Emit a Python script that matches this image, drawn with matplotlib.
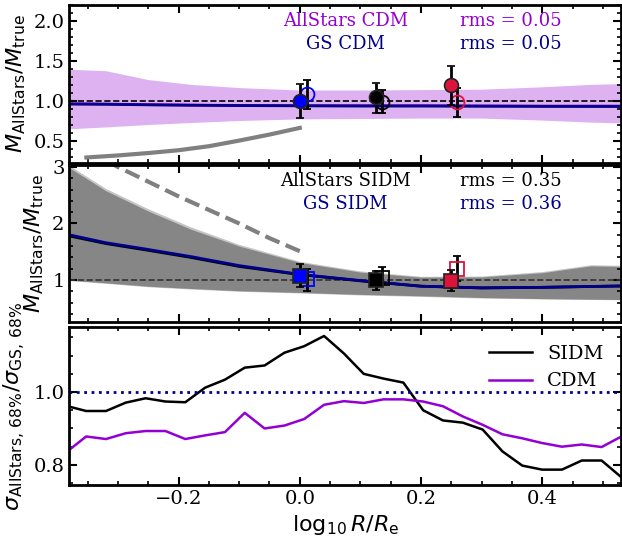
import matplotlib
matplotlib.use("Agg")
from matplotlib import pyplot as plt
from matplotlib.ticker import AutoMinorLocator, MultipleLocator
import numpy as np

plt.rcParams.update({
    "font.family": "serif",
    "font.serif": ["DejaVu Serif"],
    "mathtext.fontset": "dejavusans",
    "axes.linewidth": 2,
})

# ---- data ----
# bands / medians (log10 R/Re)
r_band = [-0.385, -0.32, -0.25, -0.18, -0.10, 0.0, 0.1, 0.2, 0.3, 0.4, 0.48, 0.53]

cdm_hi = [1.40, 1.38, 1.27, 1.21, 1.17, 1.14, 1.14, 1.145, 1.15, 1.18, 1.21, 1.22]
cdm_lo = [0.655, 0.68, 0.71, 0.735, 0.76, 0.78, 0.785, 0.79, 0.79, 0.765, 0.74, 0.73]
cdm_med_all = [0.97, 0.965, 0.958, 0.952, 0.948, 0.945, 0.945, 0.945, 0.942, 0.94, 0.94, 0.94]
cdm_med_gs = [0.965, 0.962, 0.955, 0.95, 0.946, 0.943, 0.94, 0.94, 0.938, 0.936, 0.935, 0.935]

sidm_hi = [3.02, 2.58, 2.22, 1.90, 1.60, 1.31, 1.14, 1.05, 1.055, 1.13, 1.25, 1.24]
sidm_lo = [1.0, 0.95, 0.89, 0.85, 0.81, 0.78, 0.745, 0.72, 0.69, 0.67, 0.66, 0.655]
sidm_hi2 = [3.06, 2.62, 2.26, 1.94, 1.63, 1.33, 1.16, 1.065, 1.07, 1.15, 1.27, 1.26]
sidm_lo2 = [0.995, 0.94, 0.88, 0.84, 0.80, 0.77, 0.735, 0.71, 0.68, 0.665, 0.655, 0.65]
sidm_med_all = [1.79, 1.645, 1.525, 1.40, 1.24, 1.095, 0.985, 0.89, 0.86, 0.87, 0.885, 0.894]
sidm_med_gs = [1.81, 1.66, 1.54, 1.415, 1.255, 1.10, 0.99, 0.89, 0.86, 0.87, 0.886, 0.894]

# grey reference curves
ref_x = [-0.352, -0.30, -0.25, -0.20, -0.15, -0.10, -0.05, 0.0]
ref_cdm = [0.30, 0.325, 0.355, 0.39, 0.44, 0.51, 0.585, 0.668]
ref_sidm = [3.30, 3.00, 2.74, 2.48, 2.24, 2.00, 1.74, 1.51]

# estimator points: x, y, y_hi, y_lo
pt_colors = ["blue", "black", "crimson"]
pt_x_filled = [0.0, 0.126, 0.250]
pt_x_open = [0.0115, 0.136, 0.259]

cdm_f_y = [1.0, 1.05, 1.196]
cdm_f_hi = [1.21, 1.23, 1.44]
cdm_f_lo = [0.79, 0.855, 0.956]
cdm_o_y = [1.09, 0.99, 0.99]
cdm_o_hi = [1.27, 1.146, 1.17]
cdm_o_lo = [0.905, 0.855, 0.80]

sidm_f_y = [1.07, 0.995, 0.98]
sidm_f_hi = [1.275, 1.16, 1.175]
sidm_f_lo = [0.88, 0.825, 0.80]
sidm_o_y = [1.01, 1.04, 1.19]
sidm_o_hi = [1.19, 1.23, 1.42]
sidm_o_lo = [0.81, 0.94, 0.98]

# ratio of 68% widths
r_grid = [-0.385, -0.3524, -0.3197, -0.287, -0.2543, -0.2216, -0.1889, -0.1562,
          -0.1235, -0.0908, -0.0581, -0.0254, 0.0073, 0.040, 0.0727, 0.1054,
          0.1381, 0.1708, 0.2035, 0.2362, 0.2689, 0.3016, 0.3343, 0.367,
          0.3997, 0.4324, 0.4651, 0.4978, 0.5305]
ratio_sidm = [0.962, 0.948, 0.948, 0.971, 0.983, 0.974, 0.972, 1.012, 1.034,
              1.067, 1.073, 1.108, 1.126, 1.154, 1.106, 1.050, 1.037, 1.026,
              0.950, 0.922, 0.916, 0.897, 0.837, 0.798, 0.787, 0.787, 0.812,
              0.812, 0.766]
ratio_cdm = [0.835, 0.878, 0.871, 0.887, 0.893, 0.893, 0.871, 0.881, 0.890,
             0.943, 0.900, 0.908, 0.926, 0.965, 0.975, 0.970, 0.980, 0.980,
             0.974, 0.961, 0.933, 0.910, 0.884, 0.873, 0.860, 0.850, 0.856,
             0.849, 0.878]


def style_axis(ax):
    ax.tick_params(which="both", direction="in", top=True, right=True, labelsize=14)
    ax.tick_params(which="major", length=6, width=1.5)
    ax.tick_params(which="minor", length=3, width=1.2)
    ax.xaxis.set_major_locator(MultipleLocator(0.2))
    ax.xaxis.set_minor_locator(MultipleLocator(0.05))
    ax.yaxis.set_minor_locator(AutoMinorLocator())
    ax.set_xlim(-0.38, 0.53)


def draw_points(ax, yf, yfh, yfl, yo, yoh, yol, marker):
    for i, c in enumerate(pt_colors):
        ax.errorbar(pt_x_filled[i], yf[i], yerr=[[yf[i] - yfl[i]], [yfh[i] - yf[i]]],
                    fmt=marker, color=c, mec="#222222", mew=1.2, ms=10,
                    ecolor="black", elinewidth=2, capsize=3, capthick=2, zorder=6)
        ax.errorbar(pt_x_open[i], yo[i], yerr=[[yo[i] - yol[i]], [yoh[i] - yo[i]]],
                    fmt=marker, mfc="none", mec=c, mew=1.3, ms=10,
                    ecolor="black", elinewidth=2, capsize=3, capthick=2, zorder=5)


fig = plt.figure(figsize=(6.22, 5.40), dpi=100)
ax1 = fig.add_axes([0.1116, 0.698, 0.887, 0.293])
ax2 = fig.add_axes([0.1116, 0.403, 0.887, 0.292])
ax3 = fig.add_axes([0.1116, 0.102, 0.887, 0.292])

# ---- top: CDM ----
ax1.fill_between(r_band, cdm_lo, cdm_hi, color="darkviolet", alpha=0.3, lw=0)
ax1.axhline(1.0, color="black", ls="--", lw=1.2)
ax1.plot(r_band, cdm_med_all, color="darkviolet", lw=2)
ax1.plot(r_band, cdm_med_gs, color="darkblue", lw=2)
ax1.plot(ref_x, ref_cdm, color="gray", lw=3)
draw_points(ax1, cdm_f_y, cdm_f_hi, cdm_f_lo, cdm_o_y, cdm_o_hi, cdm_o_lo, "o")
ax1.text(0.5, 0.90, "AllStars CDM", color="darkviolet", fontsize=13,
         ha="center", va="center", transform=ax1.transAxes)
ax1.text(0.80, 0.90, "rms = 0.05", color="darkviolet", fontsize=13,
         ha="center", va="center", transform=ax1.transAxes)
ax1.text(0.5, 0.755, "GS CDM", color="darkblue", fontsize=13,
         ha="center", va="center", transform=ax1.transAxes)
ax1.text(0.80, 0.755, "rms = 0.05", color="darkblue", fontsize=13,
         ha="center", va="center", transform=ax1.transAxes)
style_axis(ax1)
ax1.set_ylim(0.23, 2.2)
ax1.yaxis.set_major_locator(MultipleLocator(0.5))
ax1.set_xticklabels([])
ax1.set_ylabel(r"$M_{\rm AllStars}/M_{\rm true}$", fontsize=16)

# ---- middle: SIDM ----
ax2.fill_between(r_band, sidm_lo2, sidm_hi2, color="gray", alpha=0.45, lw=0)
ax2.fill_between(r_band, sidm_lo, sidm_hi, color="gray", alpha=0.9, lw=0)
ax2.axhline(1.0, color="#333333", ls="--", lw=1.2)
ax2.plot(r_band, sidm_med_all, color="black", lw=2)
ax2.plot(r_band, sidm_med_gs, color="darkblue", lw=2)
ax2.plot(ref_x, ref_sidm, color="gray", lw=3, ls="--")
draw_points(ax2, sidm_f_y, sidm_f_hi, sidm_f_lo, sidm_o_y, sidm_o_hi, sidm_o_lo, "s")
ax2.text(0.5, 0.895, "AllStars SIDM", color="black", fontsize=13,
         ha="center", va="center", transform=ax2.transAxes)
ax2.text(0.80, 0.895, "rms = 0.35", color="black", fontsize=13,
         ha="center", va="center", transform=ax2.transAxes)
ax2.text(0.5, 0.75, "GS SIDM", color="darkblue", fontsize=13,
         ha="center", va="center", transform=ax2.transAxes)
ax2.text(0.80, 0.75, "rms = 0.36", color="darkblue", fontsize=13,
         ha="center", va="center", transform=ax2.transAxes)
style_axis(ax2)
ax2.set_ylim(0.25, 3.04)
ax2.yaxis.set_major_locator(MultipleLocator(1))
ax2.set_xticklabels([])
ax2.set_ylabel(r"$M_{\rm AllStars}/M_{\rm true}$", fontsize=16)

# ---- bottom: width ratio ----
ax3.plot(r_grid, ratio_sidm, color="black", lw=1.8, label="SIDM")
ax3.plot(r_grid, ratio_cdm, color="darkviolet", lw=1.8, label="CDM")
ax3.axhline(1.0, color="darkblue", ls=":", lw=2)
style_axis(ax3)
ax3.set_ylim(0.745, 1.178)
ax3.yaxis.set_major_locator(MultipleLocator(0.2))
ax3.legend(loc="upper right", frameon=False, fontsize=14, handlelength=2.2)
ax3.set_ylabel(r"$\sigma_{\rm AllStars,\,68\%}/\sigma_{\rm GS,\,68\%}$", fontsize=16)
ax3.set_xlabel(r"$\log_{10}R/R_{\rm e}$", fontsize=16)

fig.savefig("out.png", dpi=100)
